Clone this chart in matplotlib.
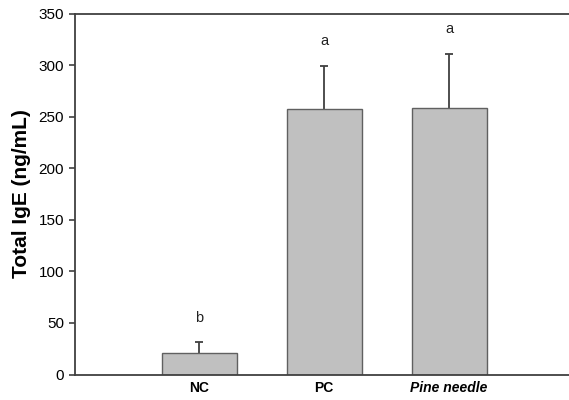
import matplotlib.pyplot as plt

plt.rcParams['font.family'] = ['Liberation Sans', 'DejaVu Sans']

# data
groups = ['NC', 'PC', 'Pine needle']
ige = [21.1, 257.2, 258.8]
ige_err = [10.1, 42.3, 52.4]
letters = ['b', 'a', 'a']
y_ticks = [0, 50, 100, 150, 200, 250, 300, 350]

fig = plt.figure(figsize=(5.69, 4.0), dpi=100)
ax = fig.add_axes([75/569, 25.5/400, 494/569, 361/400])

x = list(range(len(groups)))
ax.bar(x, ige, width=0.6, color='#c0c0c0', edgecolor='#606060', linewidth=1.0, zorder=2)
eb = ax.errorbar(x, ige, yerr=[[0]*len(ige), ige_err], fmt='none', ecolor='#404040',
                 elinewidth=1.3, capsize=3, capthick=1.3, zorder=1)
# only the upper cap
eb[1][0].set_visible(False)

for i in x:
    ax.text(i, ige[i] + ige_err[i] + 17, letters[i], ha='center', va='bottom',
            fontsize=10.5, color='#222222')

ax.set_xlim(-0.992, 2.96)
ax.set_ylim(0, 350)
ax.set_yticks(y_ticks)
ax.set_xticks(x)
ax.set_xticklabels(groups, fontsize=10, fontweight='bold')
ax.get_xticklabels()[2].set_style('italic')
ax.tick_params(axis='x', length=0, pad=5)
ax.tick_params(axis='y', direction='out', length=4, width=1.2, color='#404040', labelsize=11, pad=4)
ax.set_ylabel('Total IgE (ng/mL)', fontsize=15, fontweight='bold', labelpad=5)

for s in ['left', 'bottom', 'top']:
    ax.spines[s].set_color('#404040')
    ax.spines[s].set_linewidth(1.3)
ax.spines['right'].set_visible(False)

fig.savefig('out.png', dpi=100)
